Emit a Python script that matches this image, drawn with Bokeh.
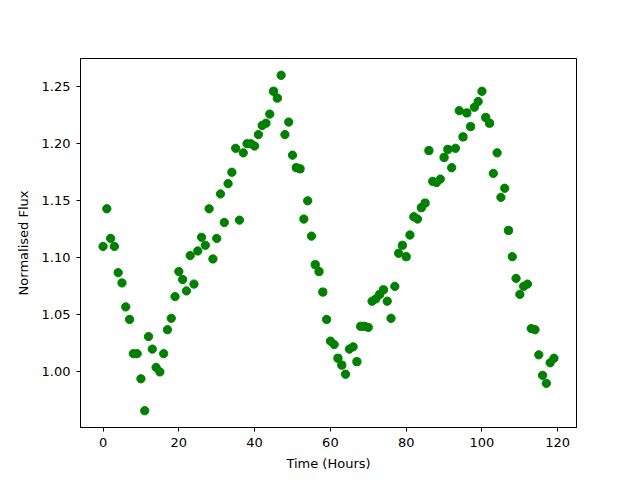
from bokeh.plotting import figure
from bokeh.models import Range1d, FixedTicker, NumeralTickFormatter
from bokeh.embed import file_html
from bokeh.resources import INLINE

hours = list(range(120))
flux = [1.110, 1.143, 1.117, 1.110, 1.087, 1.078, 1.057, 1.046, 1.016, 1.016,
        0.994, 0.966, 1.031, 1.020, 1.004, 1.000, 1.016, 1.037, 1.047, 1.066,
        1.088, 1.081, 1.071, 1.102, 1.077, 1.106, 1.118, 1.111, 1.143, 1.099,
        1.117, 1.156, 1.131, 1.165, 1.175, 1.196, 1.133, 1.192, 1.200, 1.200,
        1.198, 1.208, 1.216, 1.218, 1.226, 1.246, 1.240, 1.260, 1.208, 1.219,
        1.190, 1.179, 1.178, 1.134, 1.150, 1.119, 1.094, 1.088, 1.070, 1.046,
        1.027, 1.024, 1.012, 1.006, 0.998, 1.020, 1.022, 1.009, 1.040, 1.040,
        1.039, 1.062, 1.064, 1.068, 1.072, 1.062, 1.047, 1.075, 1.104, 1.111,
        1.101, 1.120, 1.136, 1.134, 1.144, 1.148, 1.194, 1.167, 1.166, 1.169,
        1.188, 1.195, 1.179, 1.196, 1.229, 1.206, 1.227, 1.215, 1.232, 1.237,
        1.246, 1.223, 1.218, 1.174, 1.192, 1.153, 1.161, 1.124, 1.101, 1.082,
        1.068, 1.075, 1.077, 1.038, 1.037, 1.015, 0.997, 0.990, 1.008, 1.012]
x_ticks = [0, 20, 40, 60, 80, 100, 120]
y_ticks = [1.00, 1.05, 1.10, 1.15, 1.20, 1.25]

xmin, xmax = min(hours), max(hours)
ymin, ymax = min(flux), max(flux)
xpad = (xmax - xmin) * 0.05
ypad = (ymax - ymin) * 0.05

p = figure(width=640, height=480, output_backend="svg", toolbar_location=None,
           x_range=Range1d(xmin - xpad, xmax + xpad),
           y_range=Range1d(ymin - ypad, ymax + ypad),
           min_border_left=80, min_border_right=64, min_border_top=58, min_border_bottom=53,
           frame_width=496, frame_height=369)

p.scatter(hours, flux, size=8.3, color="#008000", line_color="#008000")

p.grid.visible = False
p.outline_line_color = "black"
p.outline_line_width = 1
p.background_fill_color = "white"
p.border_fill_color = "white"

p.xaxis.ticker = FixedTicker(ticks=x_ticks)
p.yaxis.ticker = FixedTicker(ticks=y_ticks)
p.yaxis.formatter = NumeralTickFormatter(format="0.00")
p.xaxis.axis_label = "Time (Hours)"
p.yaxis.axis_label = "Normalised Flux"

for ax in [p.xaxis[0], p.yaxis[0]]:
    ax.major_label_text_font = "DejaVu Sans"
    ax.major_label_text_font_size = "13px"
    ax.axis_label_text_font = "DejaVu Sans"
    ax.axis_label_text_font_size = "13px"
    ax.axis_label_text_font_style = "normal"
    ax.major_tick_in = 0
    ax.major_tick_out = 4
    ax.minor_tick_line_color = None
    ax.axis_line_color = "black"
    ax.major_tick_line_color = "black"
    ax.major_label_text_color = "black"
    ax.axis_label_text_color = "black"

p.xaxis.major_label_standoff = 6
p.yaxis.major_label_standoff = 6
p.xaxis.axis_label_standoff = 6
p.yaxis.axis_label_standoff = 8

open("out.html", "w").write(file_html(p, INLINE))
